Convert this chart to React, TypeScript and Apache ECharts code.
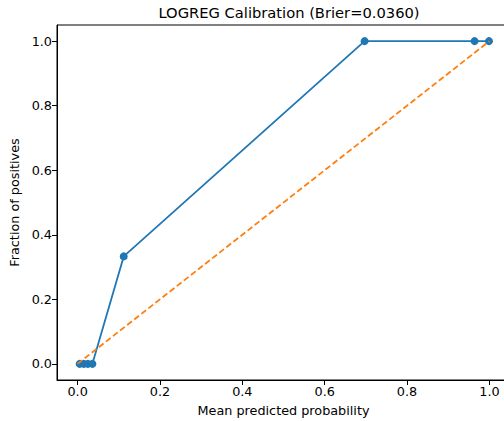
import React, { useEffect, useRef } from "react";
import * as echarts from "echarts";

const meanPredicted = [0.005, 0.015, 0.025, 0.036, 0.112, 0.697, 0.964, 0.999];
const fractionPositives = [0, 0, 0, 0, 0.333, 1.0, 1.0, 1.0];
const diagonalX = [0, 1];
const diagonalY = [0, 1];
const tickValues = [0, 0.2, 0.4, 0.6, 0.8, 1.0];
const titleText = "LOGREG Calibration (Brier=0.0360)";
const xLabel = "Mean predicted probability";
const yLabel = "Fraction of positives";

const FONT = "DejaVu Sans";

export default function App() {
  const ref = useRef<HTMLDivElement>(null);
  useEffect(() => {
    if (!ref.current) return;
    const chart = echarts.init(ref.current, undefined, { renderer: "svg" });
    const axisCommon = {
      type: "value" as const,
      min: -0.05,
      max: 1.05,
      splitLine: { show: false },
      axisLine: { show: true, onZero: false, lineStyle: { color: "#000", width: 1 } },
      axisTick: {
        show: true,
        length: 5,
        lineStyle: { color: "#000", width: 1 },
        customValues: tickValues,
      },
      axisLabel: {
        color: "#000",
        fontFamily: FONT,
        fontSize: 12.8,
        customValues: tickValues,
        formatter: (v: number) => v.toFixed(1),
        margin: 5,
      },
      nameLocation: "middle" as const,
      nameTextStyle: { color: "#000", fontFamily: FONT, fontSize: 12.8 },
    };
    chart.setOption({
      animation: false,
      backgroundColor: "#fff",
      title: {
        text: titleText,
        left: 284,
        top: 0,
        textAlign: "center",
        textStyle: { fontFamily: FONT, fontSize: 14.7, fontWeight: "normal", color: "#000" },
      },
      grid: {
        left: 57,
        top: 25,
        width: 453,
        height: 355,
        containLabel: false,
        outerBoundsMode: "none",
        show: true,
        borderColor: "#000",
        borderWidth: 1,
        backgroundColor: "transparent",
      },
      xAxis: { ...axisCommon, name: xLabel, nameGap: 24, position: "bottom" },
      yAxis: { ...axisCommon, name: yLabel, nameGap: 33, position: "left" },
      series: [
        {
          type: "line",
          data: meanPredicted.map((x, i) => [x, fractionPositives[i]]),
          color: "#1f77b4",
          lineStyle: { width: 1.8, color: "#1f77b4" },
          symbol: "circle",
          symbolSize: 8,
          itemStyle: { color: "#1f77b4" },
          z: 2,
        },
        {
          type: "line",
          data: diagonalX.map((x, i) => [x, diagonalY[i]]),
          lineStyle: { width: 1.8, color: "#ff7f0e", type: [6, 3] },
          symbol: "none",
          z: 3,
        },
      ],
    });
    return () => chart.dispose();
  }, []);
  return (
    <div
      ref={ref}
      style={{ position: "fixed", left: 0, top: 0, width: 504, height: 421, overflow: "hidden" }}
    />
  );
}
